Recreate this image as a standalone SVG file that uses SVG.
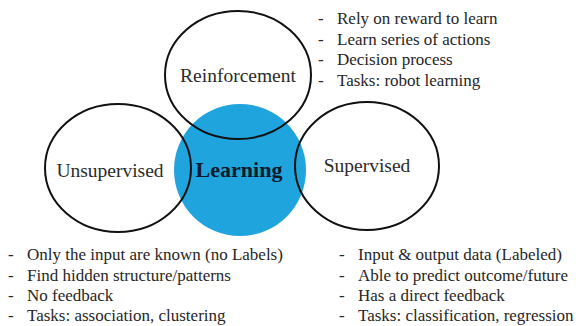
<svg xmlns="http://www.w3.org/2000/svg" width="576" height="326" viewBox="0 0 576 326">
<style>
.ring{fill:none;stroke:#111;stroke-width:2}
.lbl{font-size:19.5px;fill:#2b2b2b;text-anchor:middle}
.core{font-size:22px;font-weight:bold;fill:#0e1a2b;text-anchor:middle}
.li{font-size:17px;fill:#262626}
</style>
<rect width="576" height="326" fill="#ffffff"/>
<g font-family="Liberation Serif, Times New Roman, DejaVu Serif, serif">
<g id="learning">
<circle cx="240" cy="170" r="66" fill="#1fa4dd"/>
<text class="core" x="239" y="177">Learning</text>
</g>
<g id="reinforcement">
<ellipse class="ring" cx="238" cy="75" rx="73" ry="64"/>
<text class="lbl" x="238" y="82">Reinforcement</text>
</g>
<g id="unsupervised">
<ellipse class="ring" cx="118" cy="168" rx="73" ry="64"/>
<text class="lbl" x="110" y="177">Unsupervised</text>
</g>
<g id="supervised">
<ellipse class="ring" cx="367" cy="166" rx="72" ry="64"/>
<text class="lbl" x="367" y="172">Supervised</text>
</g>
<g id="reinforcement-notes" class="li">
<text x="318" y="24">-</text><text x="337" y="24">Rely on reward to learn</text>
<text x="318" y="44.5">-</text><text x="337" y="44.5">Learn series of actions</text>
<text x="318" y="65">-</text><text x="337" y="65">Decision process</text>
<text x="318" y="85.5">-</text><text x="337" y="85.5">Tasks: robot learning</text>
</g>
<g id="unsupervised-notes" class="li">
<text x="8" y="260">-</text><text x="27" y="260">Only the input are known (no Labels)</text>
<text x="8" y="280.5">-</text><text x="27" y="280.5">Find hidden structure/patterns</text>
<text x="8" y="301">-</text><text x="27" y="301">No feedback</text>
<text x="8" y="321">-</text><text x="27" y="321">Tasks: association, clustering</text>
</g>
<g id="supervised-notes" class="li">
<text x="339" y="260">-</text><text x="358" y="260">Input &amp; output data (Labeled)</text>
<text x="339" y="280.5">-</text><text x="358" y="280.5">Able to predict outcome/future</text>
<text x="339" y="301">-</text><text x="358" y="301">Has a direct feedback</text>
<text x="339" y="321">-</text><text x="358" y="321">Tasks: classification, regression</text>
</g>
</g>
</svg>
